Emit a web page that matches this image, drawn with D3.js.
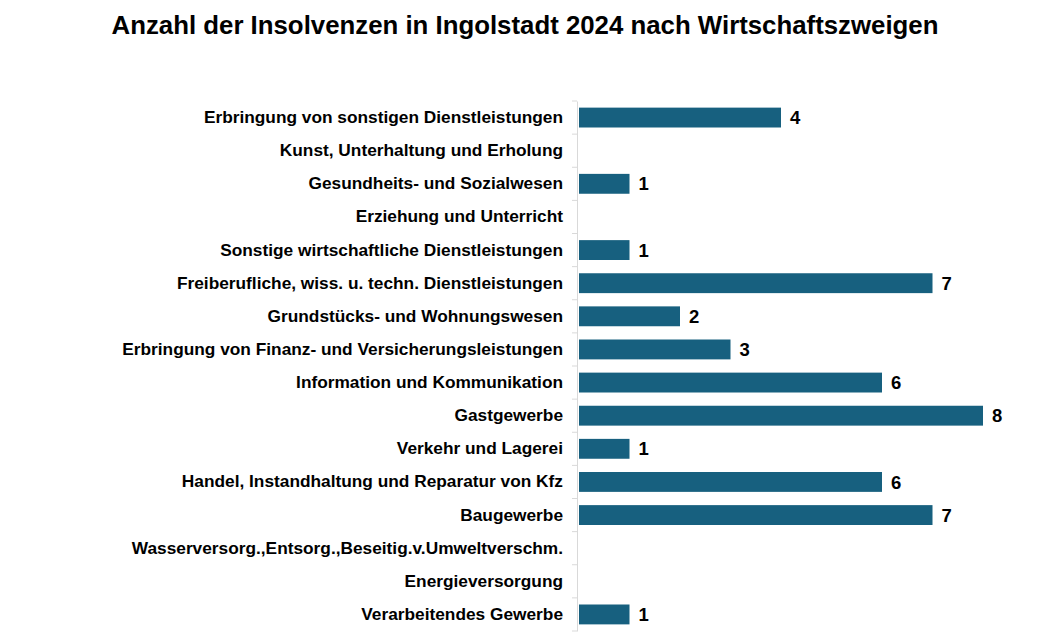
<!DOCTYPE html>
<html>
<head>
<meta charset="utf-8">
<script src="https://cdn.jsdelivr.net/npm/d3@7"></script>
<style>
  body { margin: 0; background: #fff; }
  text { font-family: "Liberation Sans", Arial, sans-serif; font-weight: bold; fill: #000; }
</style>
</head>
<body>
<div id="chart"></div>
<script>
// chart size, same as the browser window
const width = 1050;
const height = 639;

// data, top row first
const categories = [
  "Erbringung von sonstigen Dienstleistungen",
  "Kunst, Unterhaltung und Erholung",
  "Gesundheits- und Sozialwesen",
  "Erziehung und Unterricht",
  "Sonstige wirtschaftliche Dienstleistungen",
  "Freiberufliche, wiss. u. techn. Dienstleistungen",
  "Grundstücks- und Wohnungswesen",
  "Erbringung von Finanz- und Versicherungsleistungen",
  "Information und Kommunikation",
  "Gastgewerbe",
  "Verkehr und Lagerei",
  "Handel, Instandhaltung und Reparatur von Kfz",
  "Baugewerbe",
  "Wasserversorg.,Entsorg.,Beseitig.v.Umweltverschm.",
  "Energieversorgung",
  "Verarbeitendes Gewerbe"
];
const values = [4, 0, 1, 0, 1, 7, 2, 3, 6, 8, 1, 6, 7, 0, 0, 1];
const title = "Anzahl der Insolvenzen in Ingolstadt 2024 nach Wirtschaftszweigen";

const plot = {left: 577, right: 983, top: 101, bottom: 631};

const svg = d3.select("#chart")
  .append("svg")
  .attr("width", width)
  .attr("height", height);

// title
svg.append("text")
  .attr("x", 525)
  .attr("y", 34)
  .attr("text-anchor", "middle")
  .attr("font-size", "25.8px")
  .text(title);

// scales
const x = d3.scaleLinear()
  .domain([0, 8])
  .range([plot.left + 2, plot.right]);

const y = d3.scaleBand()
  .domain(categories)
  .range([plot.top, plot.bottom])
  .paddingInner(0.4)
  .paddingOuter(0.2);

// category axis: line, ticks between the categories, labels
const yAxis = svg.append("g")
  .attr("transform", `translate(${plot.left},0)`)
  .call(d3.axisLeft(y).tickSize(0).tickPadding(14));

yAxis.select(".domain").attr("stroke", "#d9d9d9");
yAxis.selectAll("text")
  .attr("font-size", "17.3px")
  .attr("font-family", "Liberation Sans, Arial, sans-serif")
  .attr("font-weight", "bold")
  .attr("fill", "#000");

const boundaries = d3.range(categories.length + 1).map(i => plot.top + i * y.step());
yAxis.selectAll(".sep")
  .data(boundaries)
  .enter()
  .append("line")
    .attr("class", "sep")
    .attr("x1", -5)
    .attr("x2", 0)
    .attr("y1", d => d)
    .attr("y2", d => d)
    .attr("stroke", "#d9d9d9");

// bars
svg.selectAll(".bar")
  .data(values)
  .enter()
  .append("rect")
    .attr("class", "bar")
    .attr("x", x(0))
    .attr("y", (d, i) => y(categories[i]))
    .attr("width", d => x(d) - x(0))
    .attr("height", y.bandwidth())
    .attr("fill", "#17607f");

// value labels, only for non-empty rows
svg.selectAll(".val")
  .data(values.map((v, i) => ({v: v, c: categories[i]})).filter(d => d.v > 0))
  .enter()
  .append("text")
    .attr("class", "val")
    .attr("x", d => x(d.v) + 9)
    .attr("y", d => y(d.c) + y.bandwidth() / 2)
    .attr("dy", "0.36em")
    .attr("font-size", "18.5px")
    .text(d => d.v);
</script>
</body>
</html>
